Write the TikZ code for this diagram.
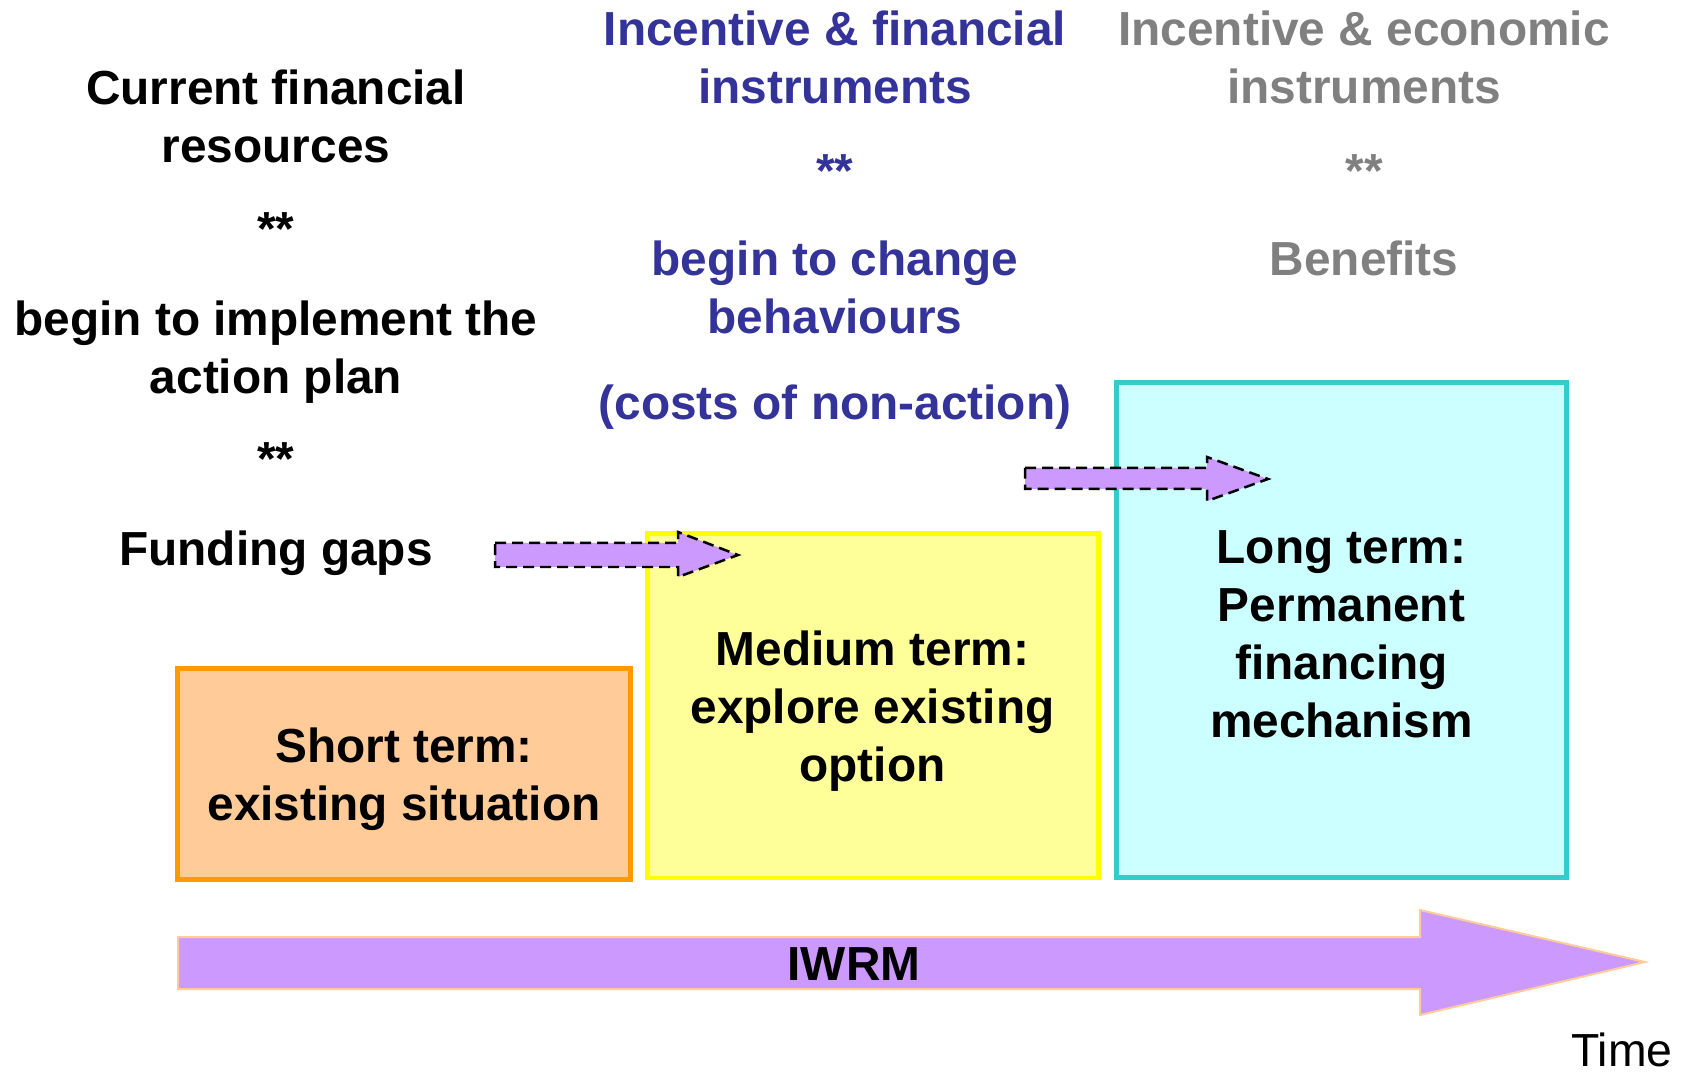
\documentclass[tikz,border=0pt]{standalone}
\usepackage{fontspec}
\setmainfont{Liberation Sans}
\usepackage{tikz}

\definecolor{shortfill}{HTML}{FFCC99}
\definecolor{shortline}{HTML}{FF9900}
\definecolor{medfill}{HTML}{FFFF99}
\definecolor{medline}{HTML}{FFFF00}
\definecolor{longfill}{HTML}{CCFFFF}
\definecolor{longline}{HTML}{33CCCC}
\definecolor{arrowfill}{HTML}{CC99FF}
\definecolor{incblue}{HTML}{333399}
\definecolor{incgray}{HTML}{808080}

\begin{document}
\begin{tikzpicture}[x=0.1mm, y=-0.1mm,
    labeltext/.style={font=\fontsize{13.6}{16.5}\selectfont\bfseries, align=center, inner sep=0pt},
    termbox/.style={draw, line width=0.5mm},
    dasharrow/.style={fill=arrowfill, draw=black, line width=0.25mm, dash pattern=on 1.1mm off 0.6mm}]
    \useasboundingbox (0,0) rectangle (1689,1073);

    % the three stages
    \node[termbox, fill=shortfill, draw=shortline, minimum width=45.3mm, minimum height=21.1mm] (short) at (404,774) {};
    \node[termbox, fill=medfill, draw=medline, minimum width=45.1mm, minimum height=34.5mm] (medium) at (872.5,705.5) {};
    \node[termbox, fill=longfill, draw=longline, minimum width=45mm, minimum height=49.5mm] (long) at (1341.5,630) {};
    \node[labeltext] (shorttext) at ([yshift=-0.5mm]short.center) {Short term:\\existing situation};
    \node[labeltext] (mediumtext) at ([yshift=-0.6mm]medium.center) {Medium term:\\explore existing\\option};
    \node[labeltext] (longtext) at ([yshift=-0.4mm]long.center) {Long term:\\Permanent\\financing\\mechanism};

    \filldraw[dasharrow] (495,543) -- (678,543) -- (678,532) -- (738,555) -- (678,577) -- (678,567) -- (495,567) -- cycle;
    \filldraw[dasharrow] (1025,468) -- (1207,468) -- (1207,457) -- (1268,479) -- (1207,501) -- (1207,489) -- (1025,489) -- cycle;

    % time axis
    \filldraw[fill=arrowfill, draw=shortfill, line width=0.2mm] (178,937) -- (1420,937) -- (1420,910) -- (1645,962) -- (1420,1015) -- (1420,989) -- (178,989) -- cycle;
    \node[labeltext] (iwrm) at (854,964) {IWRM};
    \node[font=\fontsize{13.2}{16}\selectfont, inner sep=0pt] (time) at (1622,1050) {Time};

    \node[labeltext] (current) at (276,116) {Current financial\\resources};
    \node[labeltext, anchor=base] (starA) at (276,246) {**};
    \node[labeltext] (implement) at (276,352) {begin to implement the\\action plan};
    \node[labeltext, anchor=base] (starB) at (276,476) {**};
    \node[labeltext] (gaps) at (276,553) {Funding gaps};

    \node[labeltext, text=incblue] (financial) at (835,57) {Incentive \& financial\\instruments};
    \node[labeltext, text=incblue, anchor=base] (starC) at (835,188) {**};
    \node[labeltext, text=incblue] (change) at (835,287) {begin to change\\behaviours};
    \node[labeltext, text=incblue] (costs) at (835,407) {(costs of non-action)};

    \node[labeltext, text=incgray] (economic) at (1364,57) {Incentive \& economic\\instruments};
    \node[labeltext, text=incgray, anchor=base] (starD) at (1364,188) {**};
    \node[labeltext, text=incgray] (benefits) at (1364,258) {Benefits};
\end{tikzpicture}
\end{document}
